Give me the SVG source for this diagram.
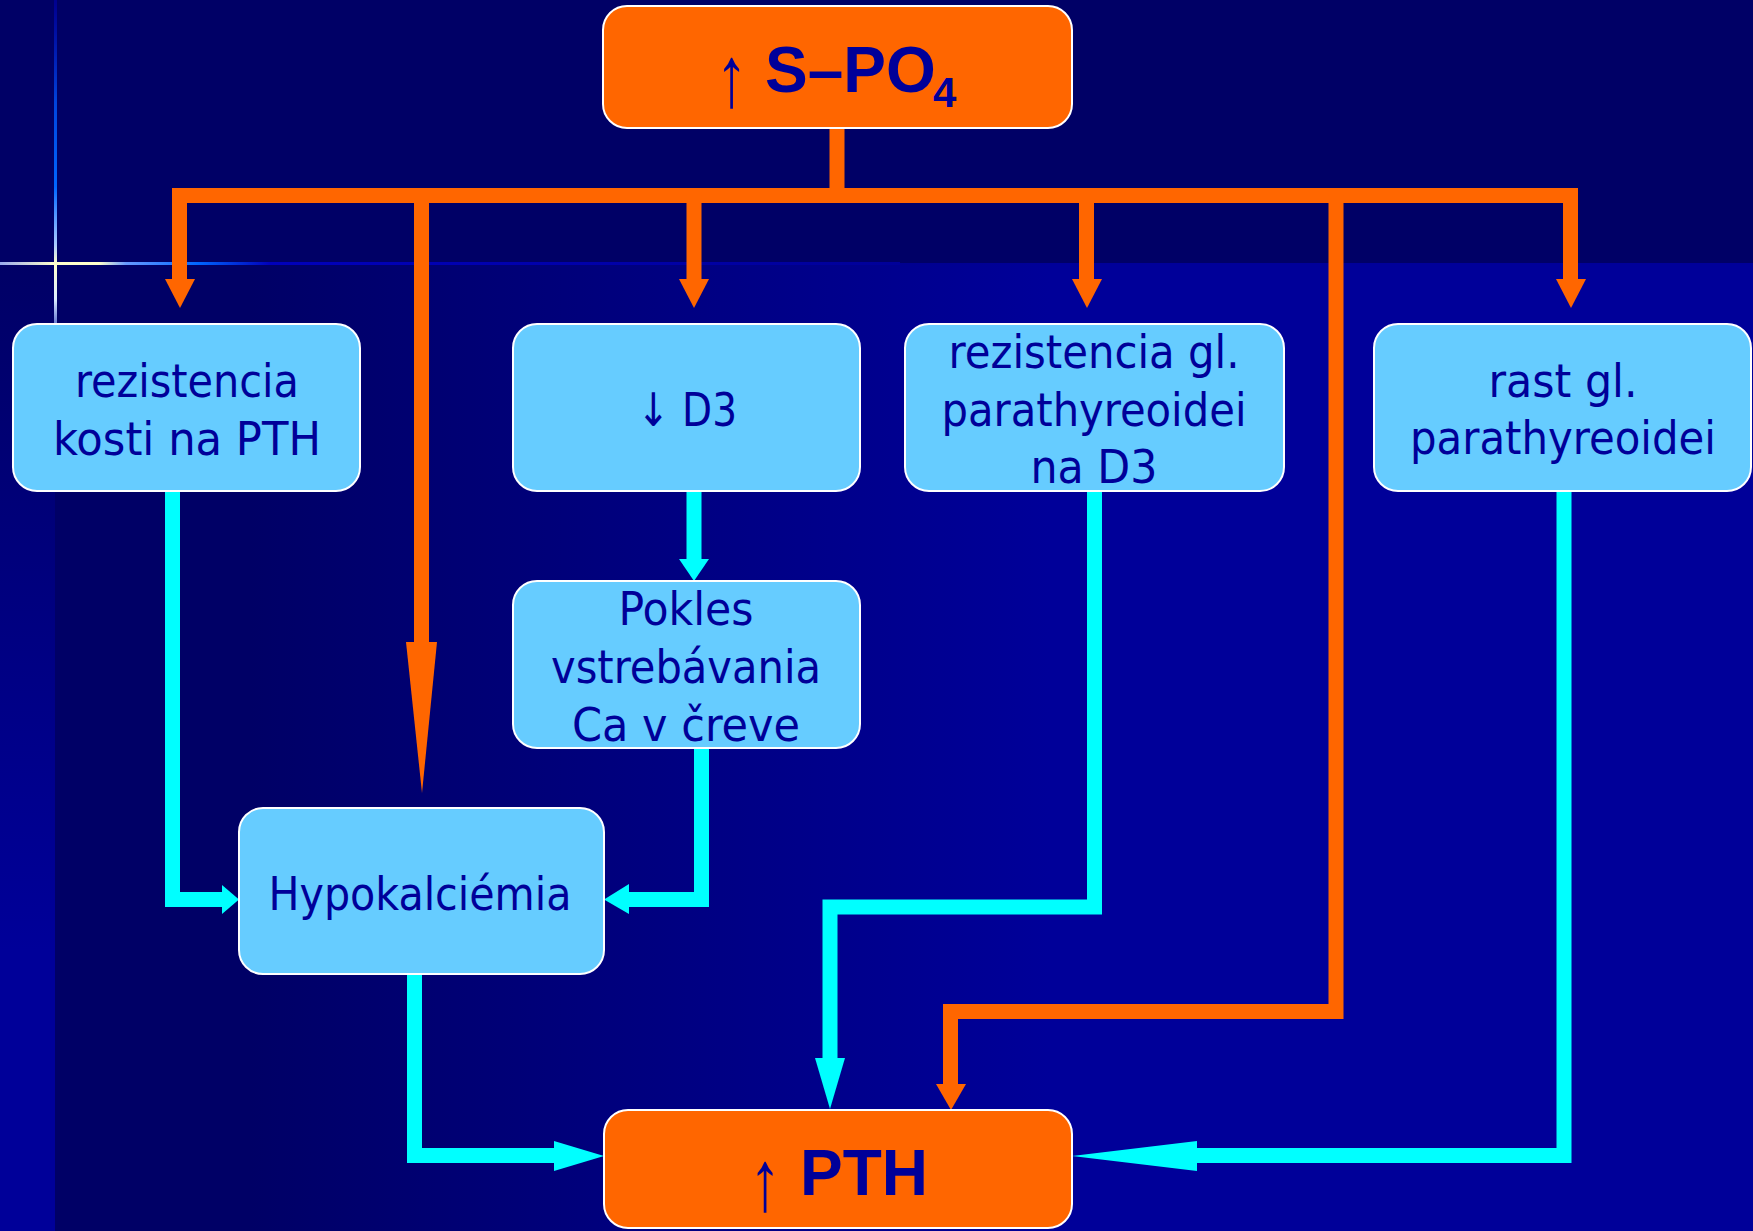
<svg xmlns="http://www.w3.org/2000/svg" width="1753" height="1231" viewBox="0 0 1753 1231">
<defs>
<linearGradient id="gMain" gradientUnits="userSpaceOnUse" x1="250" y1="0" x2="1050" y2="0">
<stop offset="0" stop-color="#000066"/><stop offset="1" stop-color="#000099"/>
</linearGradient>
<linearGradient id="gStrip" gradientUnits="userSpaceOnUse" x1="0" y1="263" x2="0" y2="950">
<stop offset="0" stop-color="#000066"/><stop offset="1" stop-color="#000099"/>
</linearGradient>
<linearGradient id="gV" gradientUnits="userSpaceOnUse" x1="0" y1="0" x2="0" y2="340">
<stop offset="0" stop-color="#0000aa" stop-opacity="0.6"/>
<stop offset="0.3" stop-color="#0044dd"/>
<stop offset="0.55" stop-color="#0066ff"/>
<stop offset="0.72" stop-color="#aaccff"/>
<stop offset="0.775" stop-color="#ffffcc"/>
<stop offset="0.88" stop-color="#ddeeff"/>
<stop offset="1" stop-color="#6688ff" stop-opacity="0.5"/>
</linearGradient>
<linearGradient id="gH" gradientUnits="userSpaceOnUse" x1="0" y1="0" x2="900" y2="0">
<stop offset="0" stop-color="#99aaee"/>
<stop offset="0.06" stop-color="#ffffcc"/>
<stop offset="0.11" stop-color="#ffffcc"/>
<stop offset="0.14" stop-color="#6699ff"/>
<stop offset="0.22" stop-color="#0066ff"/>
<stop offset="0.3" stop-color="#0000bb"/>
<stop offset="1" stop-color="#000099"/>
</linearGradient>
<style>
.box{fill:#66CCFF;stroke:#ffffff;stroke-width:2}
.obox{fill:#FF6600;stroke:#ffffff;stroke-width:2}
.t{font-family:"DejaVu Sans Condensed","DejaVu Sans",sans-serif;font-stretch:condensed;font-size:46px;fill:#000099;text-anchor:middle}
.tb{font-family:"Liberation Sans",Arial,sans-serif;font-size:64px;font-weight:bold;fill:#000099}
.ar{font-family:"Liberation Sans",Arial,sans-serif;font-size:64px;font-weight:normal;fill:#000099;text-anchor:middle}
.o{fill:none;stroke:#FF6600;stroke-width:15;stroke-linejoin:miter;stroke-linecap:butt}
.c{fill:none;stroke:#00FFFF;stroke-width:15;stroke-linejoin:miter;stroke-linecap:butt}
.oh{fill:#FF6600}
.ch{fill:#00FFFF}
</style>
</defs>

<g id="background">
<rect x="0" y="0" width="1753" height="1231" fill="#000066"/>
<rect x="55" y="263" width="1698" height="968" fill="url(#gMain)"/>
<rect x="0" y="263" width="55" height="968" fill="url(#gStrip)"/>
<rect x="0" y="262" width="900" height="3" fill="url(#gH)"/>
<rect x="54" y="0" width="3" height="340" fill="url(#gV)"/>
</g>

<g id="connectors">
<path class="o" d="M837,128 V196"/>
<path class="o" d="M179.5,279 V195.5 H1570.5 V279"/>
<polygon class="oh" points="165,279 195,279 180,308"/>
<path class="o" d="M694,195.5 V279"/>
<polygon class="oh" points="679,279 709,279 694,308"/>
<path class="o" d="M1086.5,195.5 V279"/>
<polygon class="oh" points="1072,279 1102,279 1087,308"/>
<polygon class="oh" points="1556,279 1586,279 1571,308"/>
<path class="o" d="M421.5,195.5 V642"/>
<polygon class="oh" points="406,642 437,642 422,793"/>
<path class="o" d="M1336,195.5 V1011.5 H950.5 V1084"/>
<polygon class="oh" points="936,1084 966,1084 951,1110"/>
<path class="c" d="M172.5,491 V899.5 H222"/>
<polygon class="ch" points="222,885 239,899.5 222,914"/>
<path class="c" d="M694,491 V559"/>
<polygon class="ch" points="679,559 709,559 694,581"/>
<path class="c" d="M701.5,748 V899.5 H629"/>
<polygon class="ch" points="629,884 604,899.5 629,914"/>
<path class="c" d="M1094.5,491 V907 H830 V1058"/>
<polygon class="ch" points="815,1058 845,1058 830,1109"/>
<path class="c" d="M414.5,974 V1155.5 H554"/>
<polygon class="ch" points="554,1141 604,1156 554,1171"/>
<path class="c" d="M1564,491 V1155.5 H1197"/>
<polygon class="ch" points="1197,1141 1072,1156 1197,1171"/>
</g>

<g id="node-spo4">
<rect class="obox" x="603" y="6" width="469" height="122" rx="24"/>
<text class="ar" transform="translate(731.5,106) scale(1,1.35)">↑</text>
<text class="tb" y="92"><tspan x="765">S–PO</tspan><tspan x="933" y="107" font-size="42">4</tspan></text>
</g>

<g id="node-kosti">
<rect class="box" x="13" y="324" width="347" height="167" rx="24"/>
<text class="t" x="187" y="397" textLength="224" lengthAdjust="spacingAndGlyphs">rezistencia</text>
<text class="t" x="187" y="455" textLength="268" lengthAdjust="spacingAndGlyphs">kosti na PTH</text>
</g>

<g id="node-d3">
<rect class="box" x="513" y="324" width="347" height="167" rx="24"/>
<text class="t" x="687" y="426" textLength="100" lengthAdjust="spacingAndGlyphs">↓ D3</text>
</g>

<g id="node-rezd3">
<rect class="box" x="905" y="324" width="379" height="167" rx="24"/>
<text class="t" x="1094" y="368" textLength="291" lengthAdjust="spacingAndGlyphs">rezistencia gl.</text>
<text class="t" x="1094" y="426" textLength="305" lengthAdjust="spacingAndGlyphs">parathyreoidei</text>
<text class="t" x="1094" y="483" textLength="127" lengthAdjust="spacingAndGlyphs">na D3</text>
</g>

<g id="node-rast">
<rect class="box" x="1374" y="324" width="377" height="167" rx="24"/>
<text class="t" x="1563" y="397" textLength="149" lengthAdjust="spacingAndGlyphs">rast gl.</text>
<text class="t" x="1563" y="454" textLength="306" lengthAdjust="spacingAndGlyphs">parathyreoidei</text>
</g>

<g id="node-pokles">
<rect class="box" x="513" y="581" width="347" height="167" rx="24"/>
<text class="t" x="686" y="625" textLength="135" lengthAdjust="spacingAndGlyphs">Pokles</text>
<text class="t" x="686" y="683" textLength="270" lengthAdjust="spacingAndGlyphs">vstrebávania</text>
<text class="t" x="686" y="741" textLength="228" lengthAdjust="spacingAndGlyphs">Ca v čreve</text>
</g>

<g id="node-hypo">
<rect class="box" x="239" y="808" width="365" height="166" rx="24"/>
<text class="t" x="420" y="910" textLength="303" lengthAdjust="spacingAndGlyphs">Hypokalciémia</text>
</g>

<g id="node-pth">
<rect class="obox" x="604" y="1110" width="468" height="118" rx="24"/>
<text class="ar" transform="translate(765,1210) scale(1,1.35)">↑</text>
<text class="tb" x="800" y="1195">PTH</text>
</g>
</svg>
